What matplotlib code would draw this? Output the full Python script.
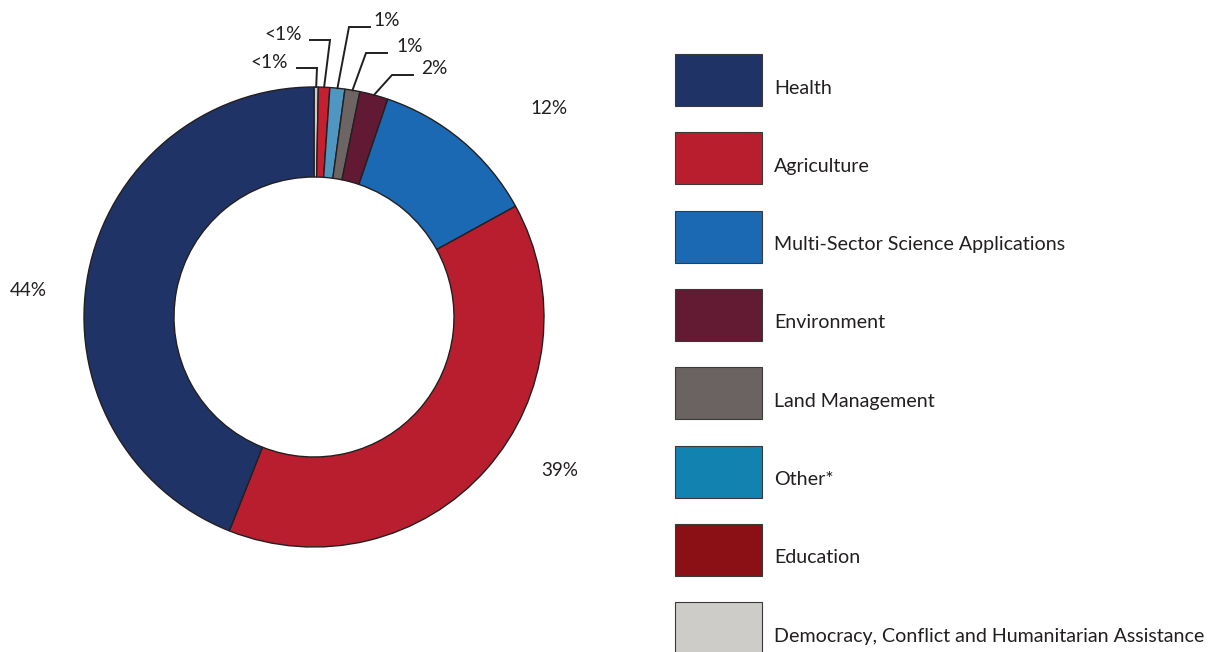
import numpy as np
import matplotlib.pyplot as plt
from matplotlib.patches import Rectangle

# slices, clockwise from 12 o'clock
slice_names = ["Democracy, Conflict and Humanitarian Assistance", "Education", "Other*",
               "Land Management", "Environment", "Multi-Sector Science Applications",
               "Agriculture", "Health"]
slice_values = [0.3, 0.8, 1.05, 1.05, 2.0, 11.8, 39.0, 44.0]
slice_labels = ["<1%", "<1%", "1%", "1%", "2%", "12%", "39%", "44%"]
slice_colors = ["#CDCCC9", "#C4202F", "#4F96C0", "#6D6563", "#621A34", "#1B69B2", "#B91E2F", "#1F3366"]

legend_names = ["Health", "Agriculture", "Multi-Sector Science Applications", "Environment",
                "Land Management", "Other*", "Education",
                "Democracy, Conflict and Humanitarian Assistance"]
legend_colors = ["#1F3366", "#B91E2F", "#1B69B2", "#631A33", "#6B6361", "#1282B0", "#8A1016", "#CDCCC9"]

W, H = 1214, 652
plt.rcParams['font.family'] = ['Lato', 'DejaVu Sans']
txt = "#231F20"

fig = plt.figure(figsize=(W / 100, H / 100), dpi=100)
ax = fig.add_axes([0, 0, 1, 1])

cx, cy, R = 314, H - 317, 230
ax.pie(slice_values, colors=slice_colors, startangle=90, counterclock=False,
       radius=R, center=(cx, cy),
       wedgeprops=dict(width=90, edgecolor=txt, linewidth=1.0))

# leader lines for the small slices (text pos, elbow, side)
small = [((288, 62), (297, 68), "right"),
         ((302, 35), (310, 40), "right"),
         ((373, 20), (370, 27), "left"),
         ((396, 47), (387, 53), "left"),
         ((421, 68), (413, 75), "left")]
cum = np.cumsum([0] + slice_values)
for i, ((tx, ty), (ex, ey), side) in enumerate(small):
    mid = (cum[i] + cum[i + 1]) / 2 / 100 * 2 * np.pi
    px, py = cx + R * np.sin(mid), cy + R * np.cos(mid)
    if side == "right":
        x0, x1 = ex, ex + 20
        ha = "right"
    else:
        x0, x1 = ex, ex - 21
        ha = "left"
    ax.plot([x0, x1, px], [H - ey, H - ey, py], color=txt, lw=1.4, solid_joinstyle="miter")
    ax.text(tx, H - ty, slice_labels[i], ha=ha, va="center", fontsize=13.8, color=txt)

ax.text(549, H - 109, slice_labels[5], ha="center", va="center", fontsize=13.6, color=txt)
ax.text(560, H - 470, slice_labels[6], ha="center", va="center", fontsize=13.6, color=txt)
ax.text(28, H - 290, slice_labels[7], ha="center", va="center", fontsize=13.6, color=txt)

# legend
for k, (name, col) in enumerate(zip(legend_names, legend_colors)):
    top = 54 + k * 78.3
    ax.add_patch(Rectangle((675, H - top - 52), 87, 52, facecolor=col,
                           edgecolor="#3a3a3a", linewidth=0.8))
    ax.text(774, H - top - 34, name, ha="left", va="center", fontsize=14.1, color=txt)

ax.set_xlim(0, W)
ax.set_ylim(0, H)
ax.set_aspect("auto")
ax.axis("off")

fig.savefig("out.png", dpi=100)
